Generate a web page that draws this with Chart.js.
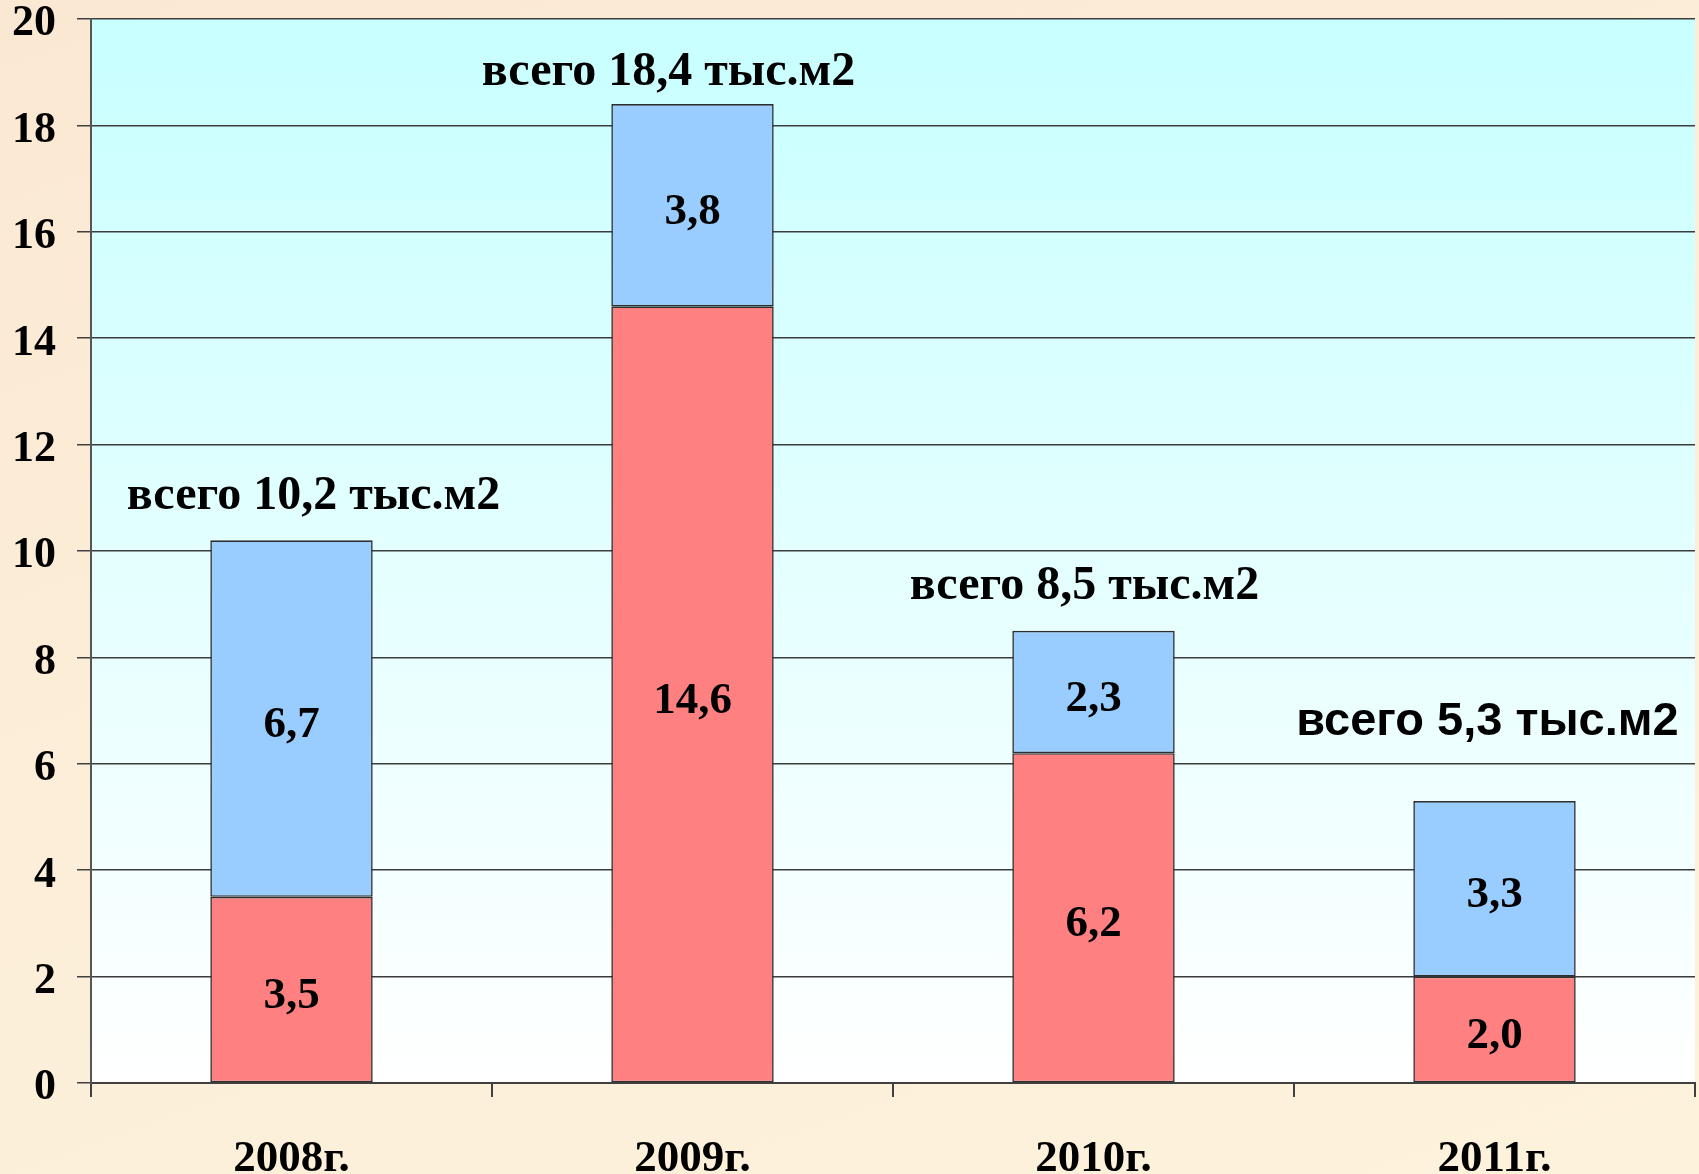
<!DOCTYPE html>
<html><head><meta charset="utf-8">
<script src="https://cdn.jsdelivr.net/npm/chart.js@4"></script>
<style>
html,body{margin:0;padding:0;}
body{width:1699px;height:1174px;overflow:hidden;background:linear-gradient(160deg,#FBE8D3 0%,#FCEED8 45%,#FDF2DC 100%);}
canvas{display:block;}
</style></head><body>
<canvas id="c" width="1699" height="1174"></canvas>
<script>
// ---- data ----
const categories = ['2008г.', '2009г.', '2010г.', '2011г.'];
const redValues  = [3.5, 14.6, 6.2, 2.0];
const blueValues = [6.7, 3.8, 2.3, 3.3];
const totals     = [10.2, 18.4, 8.5, 5.3];
const yTicks     = [0, 2, 4, 6, 8, 10, 12, 14, 16, 18, 20];

// ---- presentation ----
const totalDx = [22, -24, -9, -7];
const totalDy = [-44, -32, -44, -79];
const totalFonts = ['bold 48px "Liberation Serif"', 'bold 48px "Liberation Serif"', 'bold 48px "Liberation Serif"', 'bold 47px "Liberation Sans"'];

const fmt = v => v.toFixed(1).replace('.', ',');

const bgPlugin = {
  id: 'plotBg',
  beforeDraw(chart) {
    const {ctx, chartArea: a} = chart;
    const g = ctx.createLinearGradient(0, a.top, 0, a.bottom);
    g.addColorStop(0, '#C8FFFF');
    g.addColorStop(0.55, '#E6FFFF');
    g.addColorStop(1, '#FFFFFF');
    ctx.save();
    ctx.fillStyle = g;
    ctx.fillRect(a.left, a.top, a.right - a.left, a.bottom - a.top);
    ctx.restore();
  }
};

const labelPlugin = {
  id: 'valueLabels',
  afterDatasetsDraw(chart) {
    const ctx = chart.ctx;
    ctx.save();
    ctx.fillStyle = '#000';
    ctx.textAlign = 'center';
    ctx.textBaseline = 'middle';
    ctx.font = 'bold 45px "Liberation Serif"';
    chart.data.datasets.forEach((ds, di) => {
      chart.getDatasetMeta(di).data.forEach((bar, i) => {
        const p = bar.getProps(['x', 'y', 'base'], true);
        ctx.fillText(fmt(ds.data[i]), p.x, (p.y + p.base) / 2 + 7);
      });
    });
    chart.getDatasetMeta(1).data.forEach((bar, i) => {
      const p = bar.getProps(['x', 'y'], true);
      ctx.font = totalFonts[i];
      ctx.fillText('всего ' + fmt(totals[i]) + ' тыс.м2', p.x + totalDx[i], p.y + totalDy[i]);
    });
    ctx.restore();
  }
};

new Chart(document.getElementById('c'), {
  type: 'bar',
  data: {
    labels: categories,
    datasets: [
      { data: redValues, backgroundColor: '#FF8080', borderColor: '#2e2e2e', borderWidth: 1.6, borderSkipped: false },
      { data: blueValues, backgroundColor: '#99CCFF', borderColor: '#2e2e2e', borderWidth: 1.6, borderSkipped: false }
    ]
  },
  options: {
    responsive: false,
    animation: false,
    devicePixelRatio: 1,
    layout: { padding: { left: 0, right: 4, top: 19, bottom: 0 } },
    plugins: { legend: { display: false }, tooltip: { enabled: false }, title: { display: false } },
    datasets: { bar: { barPercentage: 0.405, categoryPercentage: 1.0 } },
    scales: {
      x: {
        stacked: true,
        offset: true,
        afterFit: s => { s.height = 91; s.paddingLeft = 0; s.paddingRight = 0; },
        grid: {
          offset: true,
          drawOnChartArea: true,
          color: c => c.index === categories.length ? '#555555' : 'rgba(0,0,0,0)',
          tickColor: '#404040',
          tickLength: 14,
          lineWidth: 2
        },
        border: { display: true, color: '#404040', width: 2 },
        ticks: {
          color: '#000',
          font: { family: '"Liberation Serif"', weight: 'bold', size: 45, lineHeight: 0.8 },
          padding: 44,
          maxRotation: 0
        }
      },
      y: {
        stacked: true,
        min: 0,
        max: 20,
        afterBuildTicks: s => { s.ticks = yTicks.map(v => ({ value: v })); },
        afterFit: s => { s.width = 91; s.paddingTop = 0; s.paddingBottom = 0; },
        grid: { color: '#3c3c3c', lineWidth: 1.5, tickColor: '#404040', tickLength: 14 },
        border: { display: true, color: '#555555', width: 2 },
        ticks: {
          color: '#000',
          font: { family: '"Liberation Serif"', weight: 'bold', size: 44, lineHeight: 0.8 },
          padding: 21,
          labelOffset: 5,
          callback: v => String(v)
        }
      }
    }
  },
  plugins: [bgPlugin, labelPlugin]
});
</script>
</body></html>
